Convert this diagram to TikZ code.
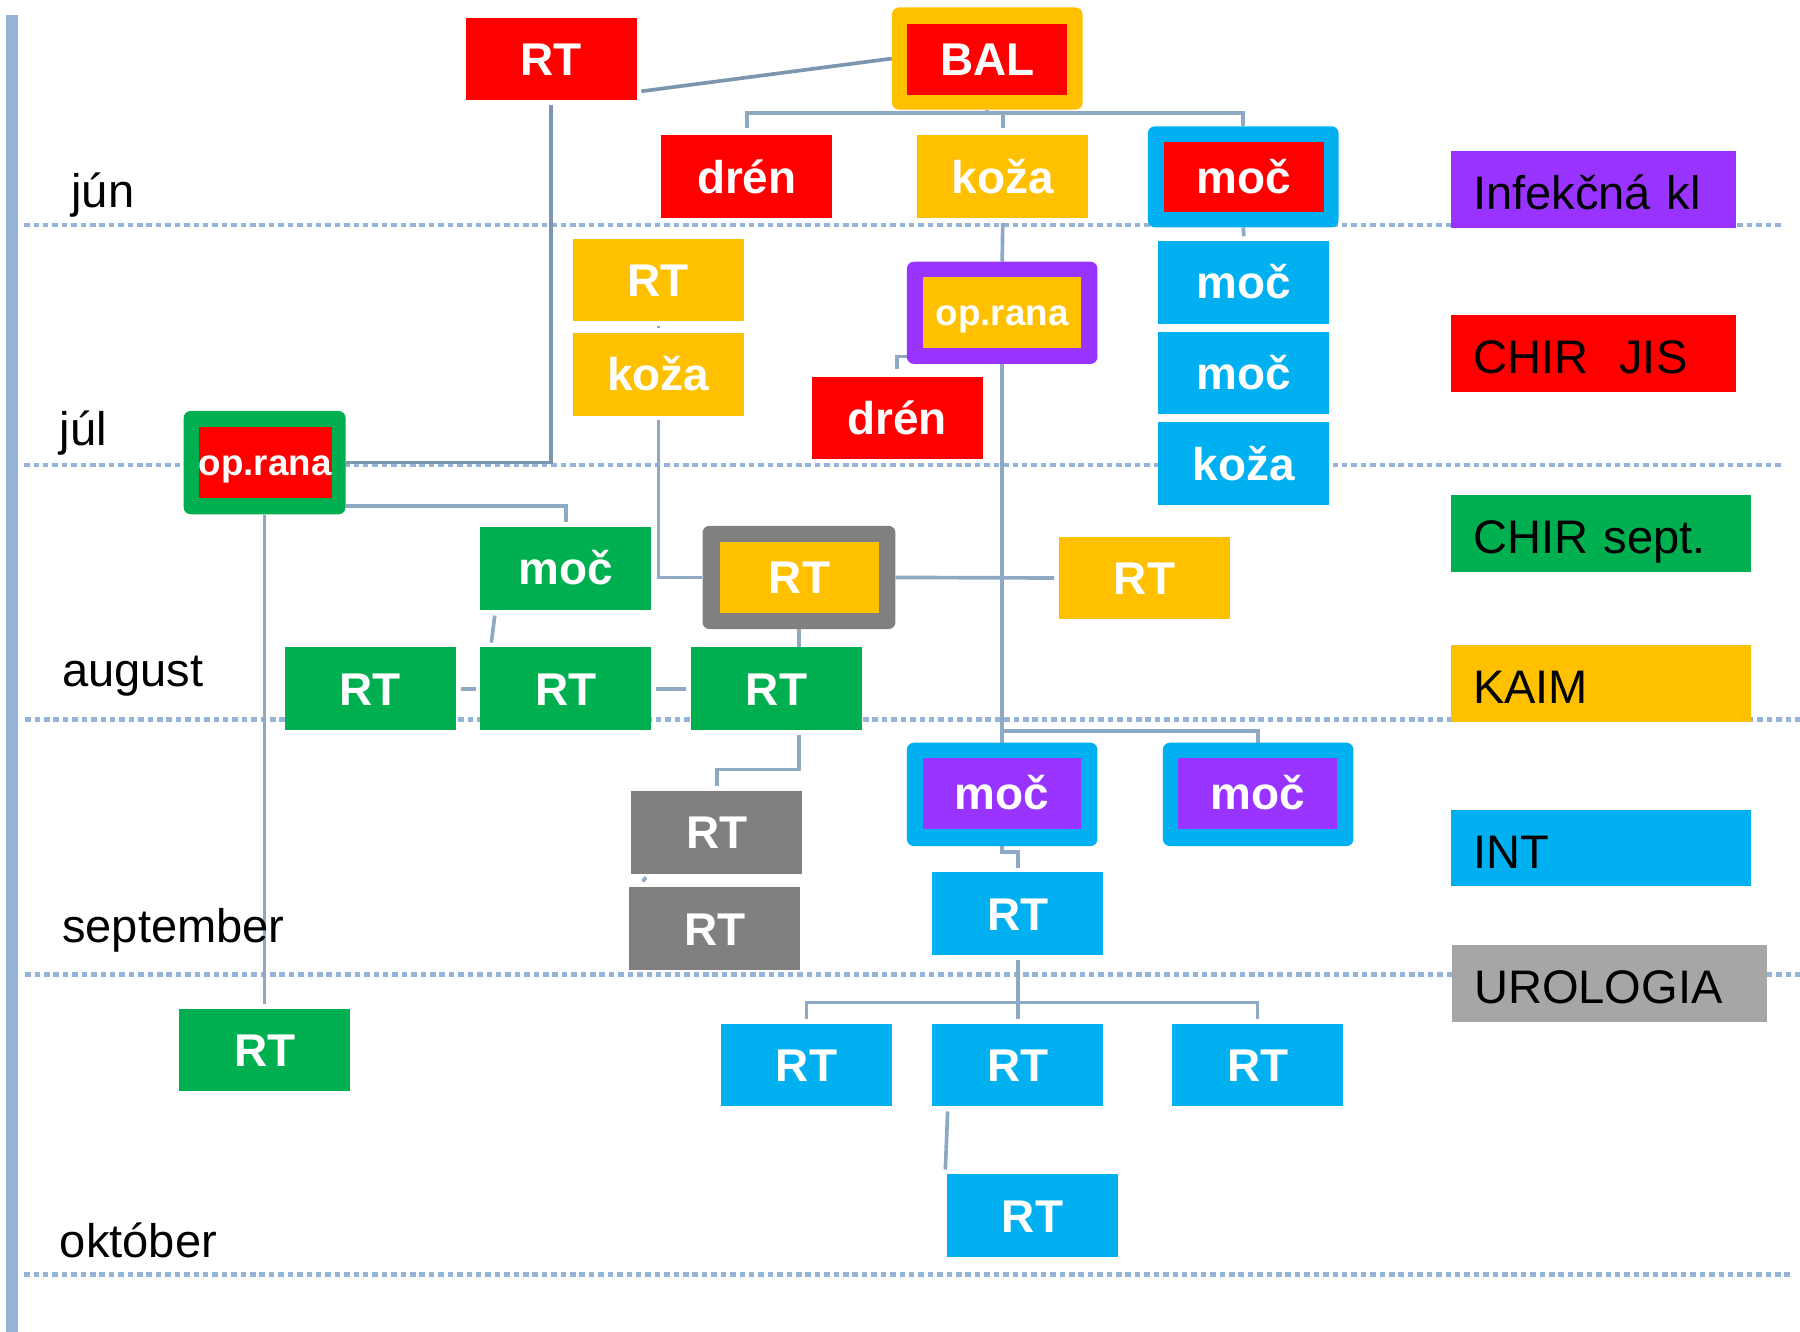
\documentclass[tikz,border=0pt]{standalone}
\usepackage{fontspec}
\setmainfont{Liberation Sans}
\usetikzlibrary{calc}
\definecolor{cred}{HTML}{FF0000}
\definecolor{corange}{HTML}{FFC000}
\definecolor{cgreen}{HTML}{00B050}
\definecolor{cblue}{HTML}{00B0F0}
\definecolor{cpurple}{HTML}{9933FF}
\definecolor{cgray}{HTML}{808080}
\definecolor{clgray}{HTML}{A6A6A6}
\definecolor{cline}{HTML}{8DA9C4}
\definecolor{cdark}{HTML}{7D96AF}
\definecolor{cdot}{HTML}{95B3D7}
\pgfdeclarelayer{bg}
\pgfsetlayers{bg,main}
\begin{document}
\begin{tikzpicture}[x=1pt,y=-1pt,
  box/.style={rectangle, inner sep=0pt, minimum width=149pt, minimum height=72pt, text=white, font=\fontsize{40}{44}\selectfont\bfseries, text height=28.6pt, text depth=0pt},
  frame/.style={rectangle, rounded corners=6pt, inner sep=0pt, minimum width=166pt, minimum height=89pt},
  inbox/.style={box, minimum width=139pt, minimum height=62pt},
  smalltext/.style={font=\fontsize{32}{36}\selectfont\bfseries, text height=22.9pt},
  conn/.style={draw=cline, line width=3.2pt},
  dconn/.style={draw=cdark, line width=3.2pt},
  dotline/.style={draw=cdot, line width=4pt, dash pattern=on 4.8pt off 3.4pt},
  month/.style={anchor=base west, inner sep=0pt, font=\fontsize{41}{45}\selectfont},
  legend/.style={rectangle, anchor=north west, inner xsep=19pt, inner ysep=0pt, minimum height=67pt, text height=35pt, text depth=0pt, align=left, font=\fontsize{41}{45}\selectfont, text=black},
]
\useasboundingbox (0,0) rectangle (1568,1160);
\fill[cdot] (5,13) rectangle (16,1160);

% month labels
\node[month] (m1) at (62,181) {jún};
\node[month] (m2) at (52,388) {júl};
\node[month] (m3) at (54,598) {august};
\node[month] (m4) at (54,821) {september};
\node[month] (m5) at (52,1095) {október};

% nodes
\node[box, fill=cred] (rt1) at (480,51.5) {RT};
\node[frame, fill=corange] (bal) at (860,51) {};
\node[inbox, fill=cred] (bal-in) at (860,51.5) {BAL};
\node[box, fill=cred] (dren1) at (650.5,154) {drén};
\node[box, fill=corange] (koza1) at (873.5,154) {koža};
\node[frame, fill=cblue, minimum height=88pt] (mocr) at (1083,154) {};
\node[inbox, fill=cred, minimum height=61pt] (mocr-in) at (1083.5,154.5) {moč};

\node[box, fill=corange] (rto1) at (573.5,244) {RT};
\node[box, fill=corange] (koza2) at (573.5,326) {koža};
\node[frame, fill=cpurple] (opp) at (873,272.5) {};
\node[inbox, smalltext, fill=corange, minimum width=138pt] (opp-in) at (873,272) {op.rana};
\node[box, fill=cred] (dren2) at (781.5,364) {drén};
\node[box, fill=cblue] (mocb1) at (1083.5,246) {moč};
\node[box, fill=cblue] (mocb2) at (1083.5,325) {moč};
\node[box, fill=cblue] (kozab) at (1083.5,404) {koža};

\node[frame, fill=cgreen, minimum width=141pt, minimum height=90pt] (opg) at (230.5,403) {};
\node[inbox, smalltext, fill=cred, minimum width=114pt] (opg-in) at (231,403) {op.rana};
\node[box, fill=cgreen] (mocg) at (493,495) {moč};
\node[frame, fill=cgray, minimum width=168pt, minimum height=90pt] (rtg) at (696,503) {};
\node[inbox, fill=corange] (rtg-in) at (696.5,503) {RT};
\node[box, fill=corange] (rto2) at (997,503.5) {RT};
\node[box, fill=cgreen] (rtg1) at (322.5,600) {RT};
\node[box, fill=cgreen] (rtg2) at (493,600) {RT};
\node[box, fill=cgreen] (rtg3) at (676.5,600) {RT};

\node[box, fill=cgray] (gr1) at (624.5,725) {RT};
\node[box, fill=cgray] (gr2) at (622.5,809) {RT};
\node[frame, fill=cblue, minimum height=90pt] (mp1) at (873,692) {};
\node[inbox, fill=cpurple, minimum width=138pt] (mp1-in) at (873,691) {moč};
\node[frame, fill=cblue, minimum height=90pt] (mp2) at (1096,692) {};
\node[inbox, fill=cpurple] (mp2-in) at (1095.5,691) {moč};
\node[box, fill=cblue] (rtb1) at (886.5,796) {RT};

\node[box, fill=cgreen, minimum height=71pt] (rtg4) at (230.5,914.5) {RT};
\node[box, fill=cblue, minimum height=71pt] (rtb2) at (702.5,927.5) {RT};
\node[box, fill=cblue, minimum height=71pt] (rtb3) at (886.5,927.5) {RT};
\node[box, fill=cblue, minimum height=71pt] (rtb4) at (1095.5,927.5) {RT};
\node[box, fill=cblue] (rtb5) at (899.5,1059) {RT};

% legend
\node[legend, fill=cpurple, text width=210pt] (lg1) at (1264,131) {Infekčná kl};
\node[legend, fill=cred, text width=210pt] (lg2) at (1264,274) {CHIR\ \ JIS};
\node[legend, fill=cgreen, text width=223pt] (lg3) at (1264,431) {CHIR sept.};
\node[legend, fill=corange, text width=223pt] (lg4) at (1264,562) {KAIM};
\node[legend, fill=cblue, text width=223pt] (lg5) at (1264,705) {INT};
\node[legend, fill=clgray, text width=236pt] (lg6) at (1265,823) {UROLOGIA};

\begin{pgfonlayer}{bg}
\draw[dotline] (21,196) -- (1552,196);
\draw[dotline] (21,405) -- (1552,405);
\draw[dotline] (22,627) -- (1568,627);
\draw[dotline] (22,849) -- (1568,849);
\draw[dotline] (21,1110) -- (1562,1110);

\draw[dconn] ($(rt1.south)+(0,4)$) |- (opg.east);
\draw[dconn] ($(rt1.east)+(4,28)$) -- (bal.west);
\draw[conn] (bal.south) -- ++(0,3) -| ($(dren1.north)+(0,-6)$);
\draw[conn] ($(bal.south)+(0,3)$) -| ($(koza1.north)+(0,-6)$);
\draw[conn] ($(bal.south)+(0,3)$) -| (mocr.north);
\draw[conn] ($(koza1.south)+(0,4)$) -- (opp.north);
\draw[conn] (opp.south) -- (mp1.north);
\draw[conn] ($(mp1.north)+(0,-10)$) -| (mp2.north);
\draw[conn] ($(opp.west)+(0,38)$) -| ($(dren2.north)+(0,-6)$);
\draw[conn] ($(rto1.south)+(0,4)$) -- ($(koza2.north)+(0,-4)$);
\draw[conn] ($(koza2.south)+(0,4)$) |- (rtg.west);
\draw[conn] ($(opg.east)+(0,38)$) -| ($(mocg.north)+(0,-4)$);
\draw[conn] (opg.south) -- ($(rtg4.north)+(0,-4)$);
\draw[conn] ($(mocg.south)+(-62,5)$) -- ($(rtg2.north)+(-65,-4)$);
\draw[conn] ($(rtg1.east)+(4,0)$) -- ($(rtg2.west)+(-4,0)$);
\draw[conn] ($(rtg2.east)+(4,0)$) -- ($(rtg3.west)+(-4,0)$);
\draw[conn] (rtg.south) -- (rtg.south |- rtg3.north);
\draw[conn] ($(rtg.south |- rtg3.south)+(0,4)$) -- ++(0,30) -| ($(gr1.north)+(0,-4)$);
\draw[conn] ($(gr1.south west)+(13,3)$) -- ($(gr2.north west)+(12,-5)$);
\draw[conn] (mp1.south) -- ++(0,5) -| ($(rtb1.north)+(0,-4)$);
\draw[conn] ($(rtb1.south)+(0,4)$) -- ($(rtb3.north)+(0,-4)$);
\draw[conn] ($(rtb1.south)+(0,41)$) -| ($(rtb2.north)+(0,-4)$);
\draw[conn] ($(rtb1.south)+(0,41)$) -| ($(rtb4.north)+(0,-4)$);
\draw[conn] ($(rtb3.south)+(-61,5)$) -- ($(rtb5.north)+(-76,-4)$);
\draw[conn] (rtg.east) -- ($(rto2.west)+(-4,0)$);
\draw[conn] (mocr.south) -- ($(mocb1.north)+(0,-4)$);
\end{pgfonlayer}
\end{tikzpicture}
\end{document}
